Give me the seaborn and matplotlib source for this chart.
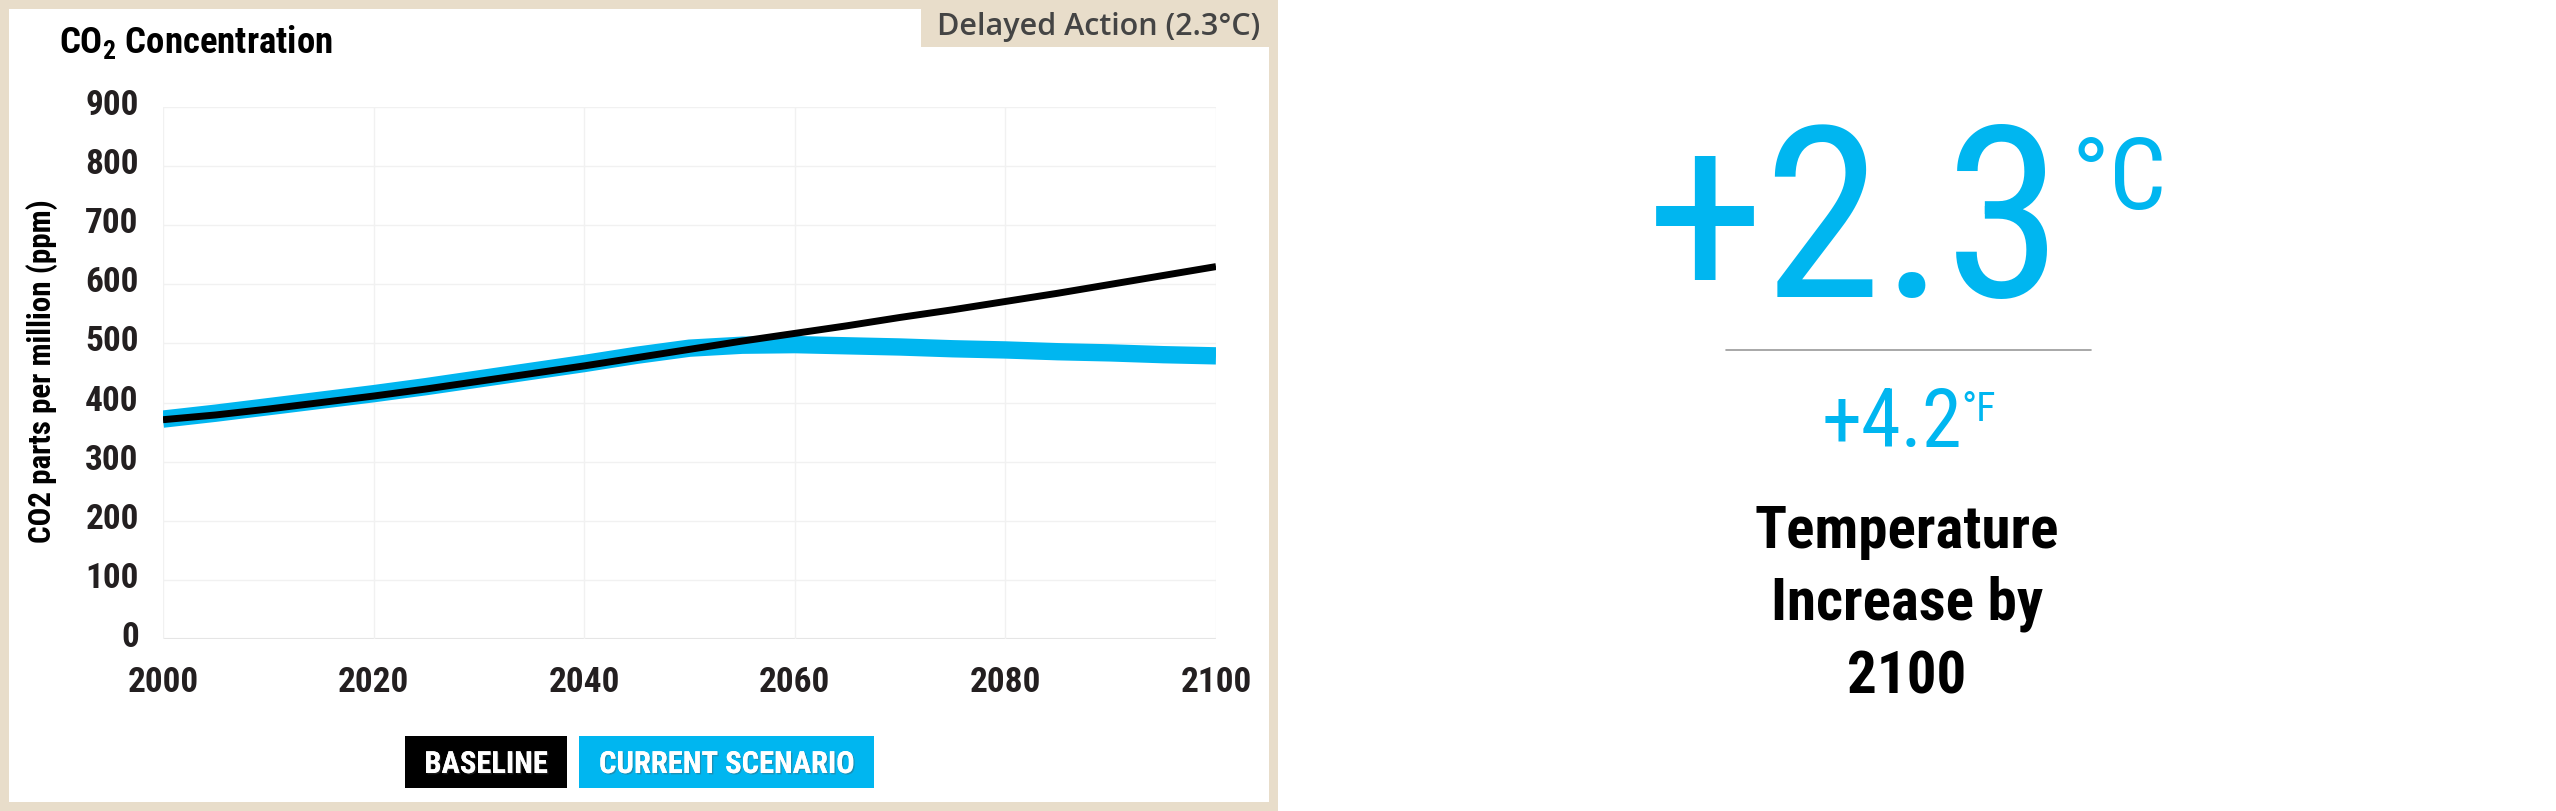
import matplotlib
matplotlib.use("Agg")
import matplotlib.pyplot as plt
import seaborn as sns
import pandas as pd
from matplotlib import font_manager, patches, lines, patheffects, transforms

# data (ppm, every 5 years)
years = list(range(2000, 2101, 5))
baseline_ppm = [371, 379, 389, 400, 411, 423, 436, 449, 462, 476, 490,
                504, 517, 530, 544, 557, 571, 585, 600, 615, 630]
current_ppm = [372, 382, 393, 404, 415, 427, 440, 453, 466, 480, 492,
               497, 498, 496, 494, 491, 489, 486, 484, 481, 479]
series_names = ["Current Scenario", "Baseline"]
legend_labels = ["BASELINE", "CURRENT SCENARIO"]
x_ticks = [2000, 2020, 2040, 2060, 2080, 2100]
y_ticks = list(range(0, 901, 100))

celsius = "+2.3"
fahrenheit = "+4.2"
scenario_tag = "Delayed Action (2.3°C)"
summary_lines = ["Temperature", "Increase by", "2100"]

CYAN = "#00b6f0"
BEIGE = "#e8ddca"
INK = "#231f20"

W, H = 2556, 811

names = {f.name for f in font_manager.fontManager.ttflist}
COND = "Roboto Condensed" if "Roboto Condensed" in names else "Roboto"
SANS = "Open Sans" if "Open Sans" in names else "DejaVu Sans"

sns.set_theme(style="white")
plt.rcParams["font.family"] = [COND, "DejaVu Sans"]
plt.rcParams["mathtext.fontset"] = "custom"
plt.rcParams["mathtext.rm"] = COND + ":bold"
plt.rcParams["mathtext.bf"] = COND + ":bold"
plt.rcParams["mathtext.it"] = COND + ":bold"


def fx(px):
    return px / W


def fy(py):
    return 1 - py / H


df = pd.DataFrame({
    "year": years * 2,
    "ppm": current_ppm + baseline_ppm,
    "scenario": [series_names[0]] * len(years) + [series_names[1]] * len(years),
})

fig = plt.figure(figsize=(W / 100, H / 100), dpi=100)
fig.patch.set_facecolor("white")

# beige frame of the left card and the white inside
fig.add_artist(patches.Rectangle((0, 0), fx(1278), 1, transform=fig.transFigure,
                                 facecolor=BEIGE, edgecolor="none", zorder=0))
fig.add_artist(patches.Rectangle((fx(9), fy(802)), fx(1260), fy(9) - fy(802),
                                 transform=fig.transFigure, facecolor="white",
                                 edgecolor="none", zorder=0))
# scenario tag at the top right corner of the card
fig.add_artist(patches.Rectangle((fx(921), fy(47)), fx(1278 - 921), fy(0) - fy(47),
                                 transform=fig.transFigure, facecolor=BEIGE,
                                 edgecolor="none", zorder=1))
fig.text(fx(1260), fy(35), scenario_tag, ha="right", va="baseline",
         fontsize=22, fontweight="semibold", color="#444444",
         family=[SANS, "DejaVu Sans"], zorder=2)

fig.text(fx(59), fy(53), r"$\mathrm{CO_2}$ Concentration", ha="left", va="baseline",
         fontsize=26.5, fontweight="bold", color="black")

ax = fig.add_axes([fx(163), fy(639), fx(1216 - 163), fy(107) - fy(639)])
ax.set_facecolor("white")
sns.lineplot(data=df, x="year", y="ppm", hue="scenario", size="scenario",
             hue_order=series_names, size_order=series_names,
             palette={series_names[0]: CYAN, series_names[1]: "black"},
             sizes={series_names[0]: 12.5, series_names[1]: 5},
             estimator=None, legend=False, ax=ax, solid_capstyle="butt")

ax.set_xlim(2000, 2100)
ax.set_ylim(0, 900)
ax.set_xticks(x_ticks)
ax.set_yticks(y_ticks)
ax.grid(True, color="#f1f1f1", lw=1)
ax.axhline(0, color="#e3e3e3", lw=1.5, zorder=0)
ax.set_axisbelow(True)
for s in ax.spines.values():
    s.set_visible(False)
ax.tick_params(axis="x", length=14.4, width=1, color="#f1f1f1", pad=5,
               labelsize=25.5, labelcolor=INK)
ax.tick_params(axis="y", length=16.5, width=1, color="#f1f1f1", pad=1,
               labelsize=25.5, labelcolor=INK)
lift = transforms.ScaledTranslation(0, 5 / 100, fig.dpi_scale_trans)
for lab in ax.get_xticklabels() + ax.get_yticklabels():
    lab.set_fontweight("bold")
for lab in ax.get_yticklabels():
    lab.set_transform(lab.get_transform() + lift)
ax.set_xlabel("")
ax.set_ylabel("CO2 parts per million (ppm)", fontsize=22.3, fontweight="bold",
              color="black")
ax.yaxis.set_label_coords((42 - 163) / (1216 - 163), (639 - 371) / (639 - 107))
ax.yaxis.label.set_va("center")

# legend chips under the chart
chips = [(405, 162, "black"), (579, 295, CYAN)]
for (x0, w, col), lab in zip(chips, legend_labels):
    fig.add_artist(patches.Rectangle((fx(x0), fy(788)), fx(w), fy(736) - fy(788),
                                     transform=fig.transFigure, facecolor=col,
                                     edgecolor="none", zorder=2))
    t = fig.text(fx(x0 + w / 2), fy(773), lab, ha="center", va="baseline",
                 fontsize=22, fontweight="bold", color="white", zorder=3)
    t.set_path_effects([patheffects.withSimplePatchShadow(offset=(1, -1), alpha=0.35),
                        patheffects.Normal()])

# right side: headline temperature
fig.text(fx(2064), fy(297), celsius, ha="right", va="baseline", fontsize=172,
         color=CYAN)
fig.text(fx(2072), fy(209), "°C", ha="left", va="baseline", fontsize=73,
         color=CYAN)
fig.add_artist(lines.Line2D([fx(1726), fx(2091)], [fy(350), fy(350)],
                            transform=fig.transFigure, color="#9a9a9a", lw=1.2))
fig.text(fx(1962), fy(447), fahrenheit, ha="right", va="baseline", fontsize=58,
         color=CYAN)
fig.text(fx(1961), fy(421), "°F", ha="left", va="baseline", fontsize=29,
         color=CYAN)
for line_txt, base in zip(summary_lines, [548, 620, 693]):
    fig.text(fx(1907), fy(base), line_txt, ha="center", va="baseline",
             fontsize=42.5, fontweight="bold", color="black")

fig.savefig("out.png", dpi=100, facecolor="white")
